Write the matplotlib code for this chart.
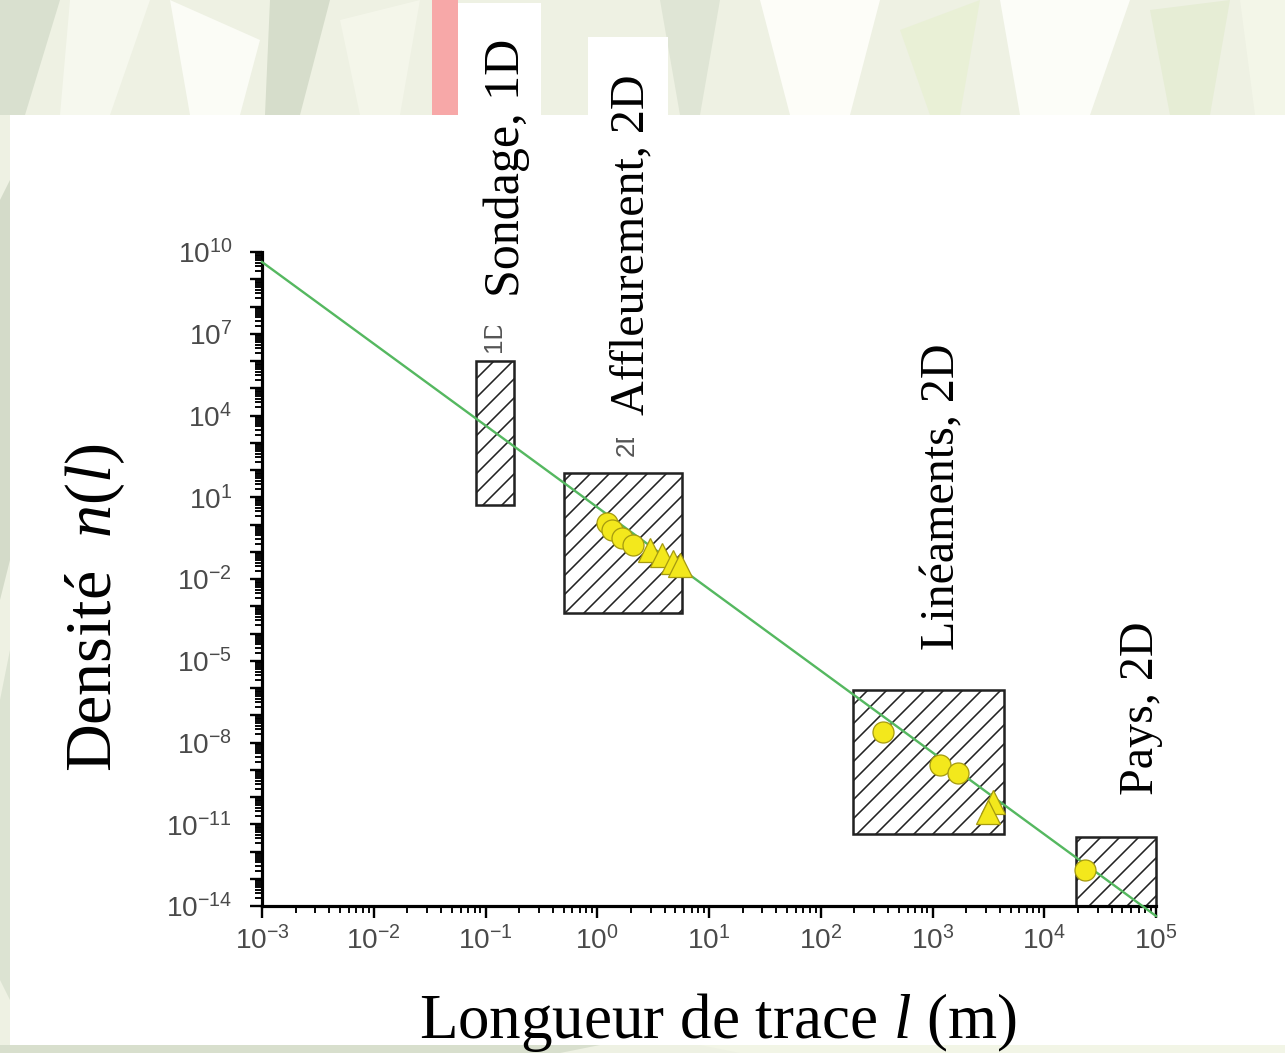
import math
import matplotlib
matplotlib.use("Agg")
import matplotlib.pyplot as plt
from matplotlib.patches import Rectangle, Polygon
from matplotlib.ticker import LogLocator, FuncFormatter, NullFormatter

DPI = 114
W_PX, H_PX = 1285, 1053

# sampling domains (trace length l in m, density n(l))
domain_names = ["Sondage, 1D", "Affleurement, 2D", "Linéaments, 2D", "Pays, 2D"]
box_l_min = [0.082, 0.5, 195, 1.92e4]
box_l_max = [0.18, 5.7, 4370, 1e5]
box_n_min = [5, 5.6e-4, 4.4e-12, 1e-14]
box_n_max = [1e6, 78, 8.5e-7, 3.4e-12]

# measured densities
circle_l = [1.22, 1.36, 1.66, 2.09, 361, 1167, 1690, 23170]
circle_n = [1.13, 0.63, 0.32, 0.18, 2.4e-8, 1.5e-9, 7.6e-10, 2.1e-13]
tri_l = [2.97, 3.8, 4.76, 5.5, 3480, 3140]
tri_n = [0.115, 0.076, 0.042, 0.032, 6.6e-11, 2.8e-11]

# power law n(l) ~ l^-3
fit_l = [1e-3, 1e5]
fit_n = [4.3e9, 4.3e-15]


def pt(px):
    return px * 72.0 / DPI


def fx(x):
    return x / W_PX


def fy(y):
    return 1 - y / H_PX


def fig_rect(x0, y0, x1, y1, color, z):
    # rectangle given in pixel corners (top-left origin)
    fig.patches.append(Rectangle((fx(x0), fy(y1)), fx(x1) - fx(x0), fy(y0) - fy(y1),
                                 transform=fig.transFigure, facecolor=color,
                                 edgecolor="none", zorder=z))


plt.rcParams["font.family"] = ["Liberation Sans", "DejaVu Sans"]
plt.rcParams["mathtext.fontset"] = "custom"
plt.rcParams["mathtext.rm"] = "Liberation Serif"
plt.rcParams["mathtext.it"] = "Liberation Serif:italic"
plt.rcParams["hatch.linewidth"] = 1.0

fig = plt.figure(figsize=(W_PX / DPI, H_PX / DPI), dpi=DPI)
fig.patch.set_facecolor("#eef1e3")

# leafy backdrop
leaves = [
    ([(0, 0), (60, 0), (25, 115), (0, 115)], "#d9e0cf"),
    ([(70, 0), (150, 0), (110, 115), (60, 115)], "#f6f8ee"),
    ([(170, 0), (260, 40), (240, 115), (190, 115)], "#fbfcf6"),
    ([(270, 0), (330, 0), (300, 115), (265, 115)], "#d6ddcb"),
    ([(340, 20), (420, 0), (400, 115), (360, 115)], "#f4f6ea"),
    ([(660, 0), (720, 0), (700, 115), (680, 115)], "#dfe5d5"),
    ([(760, 0), (880, 0), (850, 115), (790, 115)], "#fdfdf8"),
    ([(900, 30), (980, 0), (960, 115), (930, 115)], "#e9f0d6"),
    ([(1000, 0), (1130, 0), (1090, 115), (1020, 115)], "#fcfdf8"),
    ([(1150, 10), (1230, 0), (1210, 115), (1170, 115)], "#e6edd5"),
    ([(1240, 0), (1285, 0), (1285, 115), (1255, 115)], "#f3f6e8"),
    ([(0, 200), (10, 180), (10, 560), (0, 600)], "#d4dbc9"),
    ([(0, 700), (10, 650), (10, 1000), (0, 980)], "#dce3d2"),
    ([(0, 1045), (600, 1045), (560, 1053), (0, 1053)], "#d8dfcd"),
    ([(700, 1045), (1285, 1045), (1285, 1053), (740, 1053)], "#f2f5e6"),
]
for pts, c in leaves:
    fig.patches.append(Polygon([(fx(x), fy(y)) for x, y in pts], closed=True,
                               transform=fig.transFigure, facecolor=c,
                               edgecolor="none", zorder=-10))
fig_rect(432, 0, 458, 115, "#f7a8a8", -9)

# white slide panel
fig_rect(10, 115, W_PX, 1045, "white", -5)

ax = fig.add_axes([fx(262), fy(906), fx(1156) - fx(262), fy(252) - fy(906)])
ax.patch.set_alpha(0)
ax.set_xscale("log")
ax.set_yscale("log")
ax.set_xlim(1e-3, 1e5)
ax.set_ylim(1e-14, 1e10)

for l0, l1, n0, n1 in zip(box_l_min, box_l_max, box_n_min, box_n_max):
    ax.add_patch(Rectangle((l0, n0), l1 - l0, n1 - n0, facecolor="white",
                           edgecolor="#222222", hatch="//", linewidth=1.6,
                           zorder=2, clip_on=False))

ax.plot(fit_l, fit_n, color="#55b860", linewidth=1.5, zorder=3, clip_on=False)

ax.plot(circle_l, circle_n, linestyle="none", marker="o", markersize=pt(21),
        markerfacecolor="#f3e81c", markeredgecolor="#a59a10",
        markeredgewidth=0.8, zorder=4)
ax.plot(tri_l, tri_n, linestyle="none", marker="^", markersize=pt(24),
        markerfacecolor="#f3e81c", markeredgecolor="#a59a10",
        markeredgewidth=0.8, zorder=4)

for side in ["top", "right"]:
    ax.spines[side].set_visible(False)
for side in ["left", "bottom"]:
    ax.spines[side].set_linewidth(2)

ax.xaxis.set_major_locator(LogLocator(base=10, numticks=20))
ax.xaxis.set_minor_locator(LogLocator(base=10, subs=range(2, 10), numticks=20))
ax.xaxis.set_minor_formatter(NullFormatter())
ax.yaxis.set_major_locator(LogLocator(base=10, numticks=40))
ax.yaxis.set_minor_locator(LogLocator(base=10, subs=range(2, 10), numticks=40))
ax.yaxis.set_minor_formatter(NullFormatter())


def y_fmt(v, pos):
    # label every third decade only
    e = int(round(math.log10(v)))
    if e % 3 != 1:
        return ""
    return r"$\mathdefault{10^{%d}}$" % e


ax.yaxis.set_major_formatter(FuncFormatter(y_fmt))

ax.tick_params(axis="both", which="major", length=pt(12), width=1.5,
               labelsize=pt(28), labelcolor="#4a4a4a", color="black")
ax.tick_params(axis="both", which="minor", length=pt(7), width=1.2, color="black")
ax.tick_params(axis="x", which="major", pad=pt(8))
ax.tick_params(axis="y", which="major", pad=pt(18))

# axis titles
fig.text(fx(718), fy(1022), "Longueur de trace $l$ (m)", ha="center", va="center",
         fontsize=pt(63), family="Liberation Serif")
fig.text(fx(95), fy(607), "Densité  $n(l)$", ha="center", va="center",
         rotation=90, fontsize=pt(66), family="Liberation Serif")

# leftover small tags from the original figure, partly hidden
fig.text(fx(494), fy(352), "1D", ha="center", va="bottom", rotation=90,
         fontsize=pt(26), color="#555555", zorder=5)
fig.text(fx(627), fy(456), "2D", ha="center", va="bottom", rotation=90,
         fontsize=pt(26), color="#555555", zorder=5)
fig_rect(458, 3, 541, 326, "white", 6)
fig_rect(588, 37, 668, 438, "white", 6)

label_x = [507, 631, 942, 1141]
label_bottom = [297, 415, 650, 795]
label_size = [50, 48, 48, 48]
for name, x, y, s in zip(domain_names, label_x, label_bottom, label_size):
    fig.text(fx(x), fy(y), name, ha="center", va="bottom", rotation=90,
             fontsize=pt(s), family="Liberation Serif", zorder=7)

fig.savefig("out.png", dpi=DPI)
